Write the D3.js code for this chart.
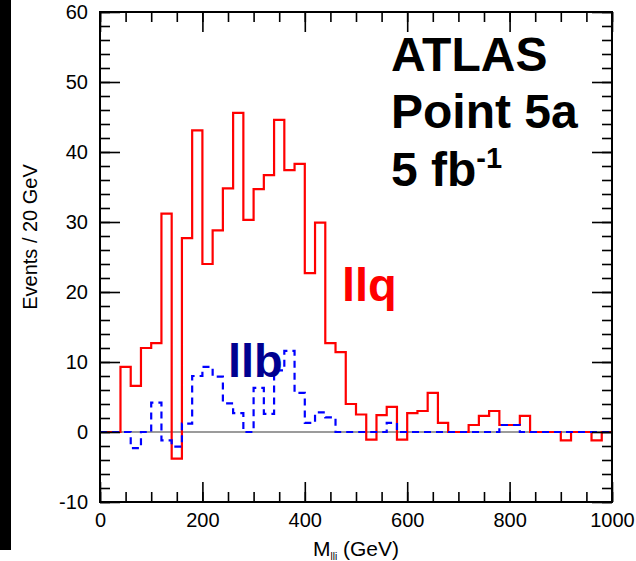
<!DOCTYPE html>
<html>
<head>
<meta charset="utf-8">
<script src="https://cdn.jsdelivr.net/npm/d3@7"></script>
<style>
  html, body { margin: 0; padding: 0; background: #fff; }
  svg { display: block; }
  text { font-family: "Liberation Sans", Arial, Helvetica, sans-serif; }
</style>
</head>
<body>
<svg id="chart" width="636" height="561"></svg>
<script>
// 20 GeV bins from 0 to 1000 GeV (lower edges)
const binWidth = 20;
const binStarts = d3.range(0, 1000, binWidth);

// Events per bin, llq combinations (red, solid)
const llqEvents = [
  0, 0, 9.3, 6.6, 12.0, 12.7, 31.2, -3.8, 27.7, 43.1,
  24.0, 28.8, 34.8, 45.6, 30.3, 34.7, 36.7, 44.6, 37.4, 38.3,
  22.7, 29.9, 12.7, 11.4, 4.0, 2.5, -1.1, 2.4, 3.6, -1.1,
  2.7, 3.0, 5.6, 1.3, 0, 0, 1.0, 2.3, 3.0, 1.0,
  1.0, 2.3, 0, 0, 0, -1.2, 0, 0, -1.2, 0
];

// Events per bin, llb combinations (blue, dashed)
const llbEvents = [
  0, 0, 0, -2.3, 0, 4.2, -1.2, -2.1, 1.2, 8.0,
  9.3, 7.9, 4.1, 2.7, 0, 6.3, 2.6, 8.8, 11.6, 5.6,
  1.3, 2.8, 2.1, 0, 0, 0, 0, 0, 1.3, 0,
  0, 0, 0, 0, 0, 0, 0, 0, 0, 1.0,
  1.0, 0, 0, 0, 0, 0, 0, 0, 0, 0
];

// Axis ticks
const xMajorTicks = [0, 200, 400, 600, 800, 1000];
const xMinorTicks = d3.range(0, 1001, 50);
const yMajorTicks = [-10, 0, 10, 20, 30, 40, 50, 60];
const yMinorTicks = d3.range(-10, 61, 2);

const svg = d3.select("#chart");
const plotLeft = 100, plotRight = 612, plotTop = 12, plotBottom = 502;

const x = d3.scaleLinear().domain([0, 1000]).range([plotLeft, plotRight]);
const y = d3.scaleLinear().domain([-10, 60]).range([plotBottom, plotTop]);

// plain hyphen for negative tick labels
const tickText = d => String(d);

// dark strip along the left edge
svg.append("rect").attr("x", 0).attr("y", 0).attr("width", 11).attr("height", 550).attr("fill", "#000");

// zero line
svg.append("line")
  .attr("x1", x(0)).attr("x2", x(1000))
  .attr("y1", y(0)).attr("y2", y(0))
  .attr("stroke", "#7a7a7a").attr("stroke-width", 1.5);

// histogram outline: horizontal step per bin, verticals join neighbours
function stepPoints(values) {
  const pts = [];
  values.forEach((v, i) => {
    pts.push([binStarts[i], v]);
    pts.push([binStarts[i] + binWidth, v]);
  });
  return pts;
}
const line = d3.line().x(d => x(d[0])).y(d => y(d[1]));

svg.append("path")
  .attr("d", line(stepPoints(llqEvents)))
  .attr("fill", "none").attr("stroke", "#ff0000").attr("stroke-width", 2.2)
  .attr("stroke-linejoin", "miter");

svg.append("path")
  .attr("d", line(stepPoints(llbEvents)))
  .attr("fill", "none").attr("stroke", "#0000ff").attr("stroke-width", 2.2)
  .attr("stroke-dasharray", "7,5");

// axes with inward ticks on all four sides
function styleAxis(g) {
  g.select(".domain").remove();
  g.selectAll(".tick line").attr("stroke", "#000").attr("stroke-width", 1.6);
  g.selectAll("text").attr("fill", "#000").style("font-size", "20px")
    .style("font-family", "'Liberation Sans', Arial, sans-serif");
}

svg.append("g").attr("transform", `translate(${plotLeft},0)`)
  .call(d3.axisLeft(y).tickValues(yMinorTicks).tickSize(-10).tickFormat(""))
  .call(styleAxis);
svg.append("g").attr("transform", `translate(${plotLeft},0)`)
  .call(d3.axisLeft(y).tickValues(yMajorTicks).tickSize(-20).tickPadding(12).tickFormat(tickText))
  .call(styleAxis);
svg.append("g").attr("transform", `translate(${plotRight},0)`)
  .call(d3.axisRight(y).tickValues(yMinorTicks).tickSize(-10).tickFormat(""))
  .call(styleAxis);
svg.append("g").attr("transform", `translate(${plotRight},0)`)
  .call(d3.axisRight(y).tickValues(yMajorTicks).tickSize(-20).tickFormat(""))
  .call(styleAxis);

svg.append("g").attr("transform", `translate(0,${plotBottom})`)
  .call(d3.axisBottom(x).tickValues(xMinorTicks).tickSize(-10).tickFormat(""))
  .call(styleAxis);
svg.append("g").attr("transform", `translate(0,${plotBottom})`)
  .call(d3.axisBottom(x).tickValues(xMajorTicks).tickSize(-20).tickPadding(11).tickFormat(tickText))
  .call(styleAxis);
svg.append("g").attr("transform", `translate(0,${plotTop})`)
  .call(d3.axisTop(x).tickValues(xMinorTicks).tickSize(-10).tickFormat(""))
  .call(styleAxis);
svg.append("g").attr("transform", `translate(0,${plotTop})`)
  .call(d3.axisTop(x).tickValues(xMajorTicks).tickSize(-20).tickFormat(""))
  .call(styleAxis);

// frame
svg.append("rect")
  .attr("x", plotLeft).attr("y", plotTop)
  .attr("width", plotRight - plotLeft).attr("height", plotBottom - plotTop)
  .attr("fill", "none").attr("stroke", "#000").attr("stroke-width", 2);

// axis titles
svg.append("text")
  .attr("transform", "translate(37,237) rotate(-90)")
  .attr("text-anchor", "middle")
  .style("font-size", "20px")
  .text("Events / 20 GeV");

const xt = svg.append("text")
  .attr("x", (plotLeft + plotRight) / 2).attr("y", 556)
  .attr("text-anchor", "middle")
  .style("font-size", "21px");
xt.append("tspan").text("M");
xt.append("tspan").attr("dy", 4).style("font-size", "10px").text("lli");
xt.append("tspan").attr("dy", -4).text(" (GeV)");

// labels inside the plot
const big = "48px";
svg.append("text").attr("x", 391).attr("y", 71).style("font-size", big).style("font-weight", "bold").text("ATLAS");
svg.append("text").attr("x", 391).attr("y", 128).style("font-size", big).style("font-weight", "bold").text("Point 5a");
const lumi = svg.append("text").attr("x", 391).attr("y", 186).style("font-size", big).style("font-weight", "bold");
lumi.append("tspan").text("5 fb");
lumi.append("tspan").attr("dy", -18).style("font-size", "29px").text("-1");

svg.append("text").attr("x", 342).attr("y", 301).style("font-size", "47px").style("font-weight", "bold")
  .attr("fill", "#ff0000").text("llq");
svg.append("text").attr("x", 228).attr("y", 377).style("font-size", "47px").style("font-weight", "bold")
  .attr("fill", "#000090").text("llb");
</script>
</body>
</html>
